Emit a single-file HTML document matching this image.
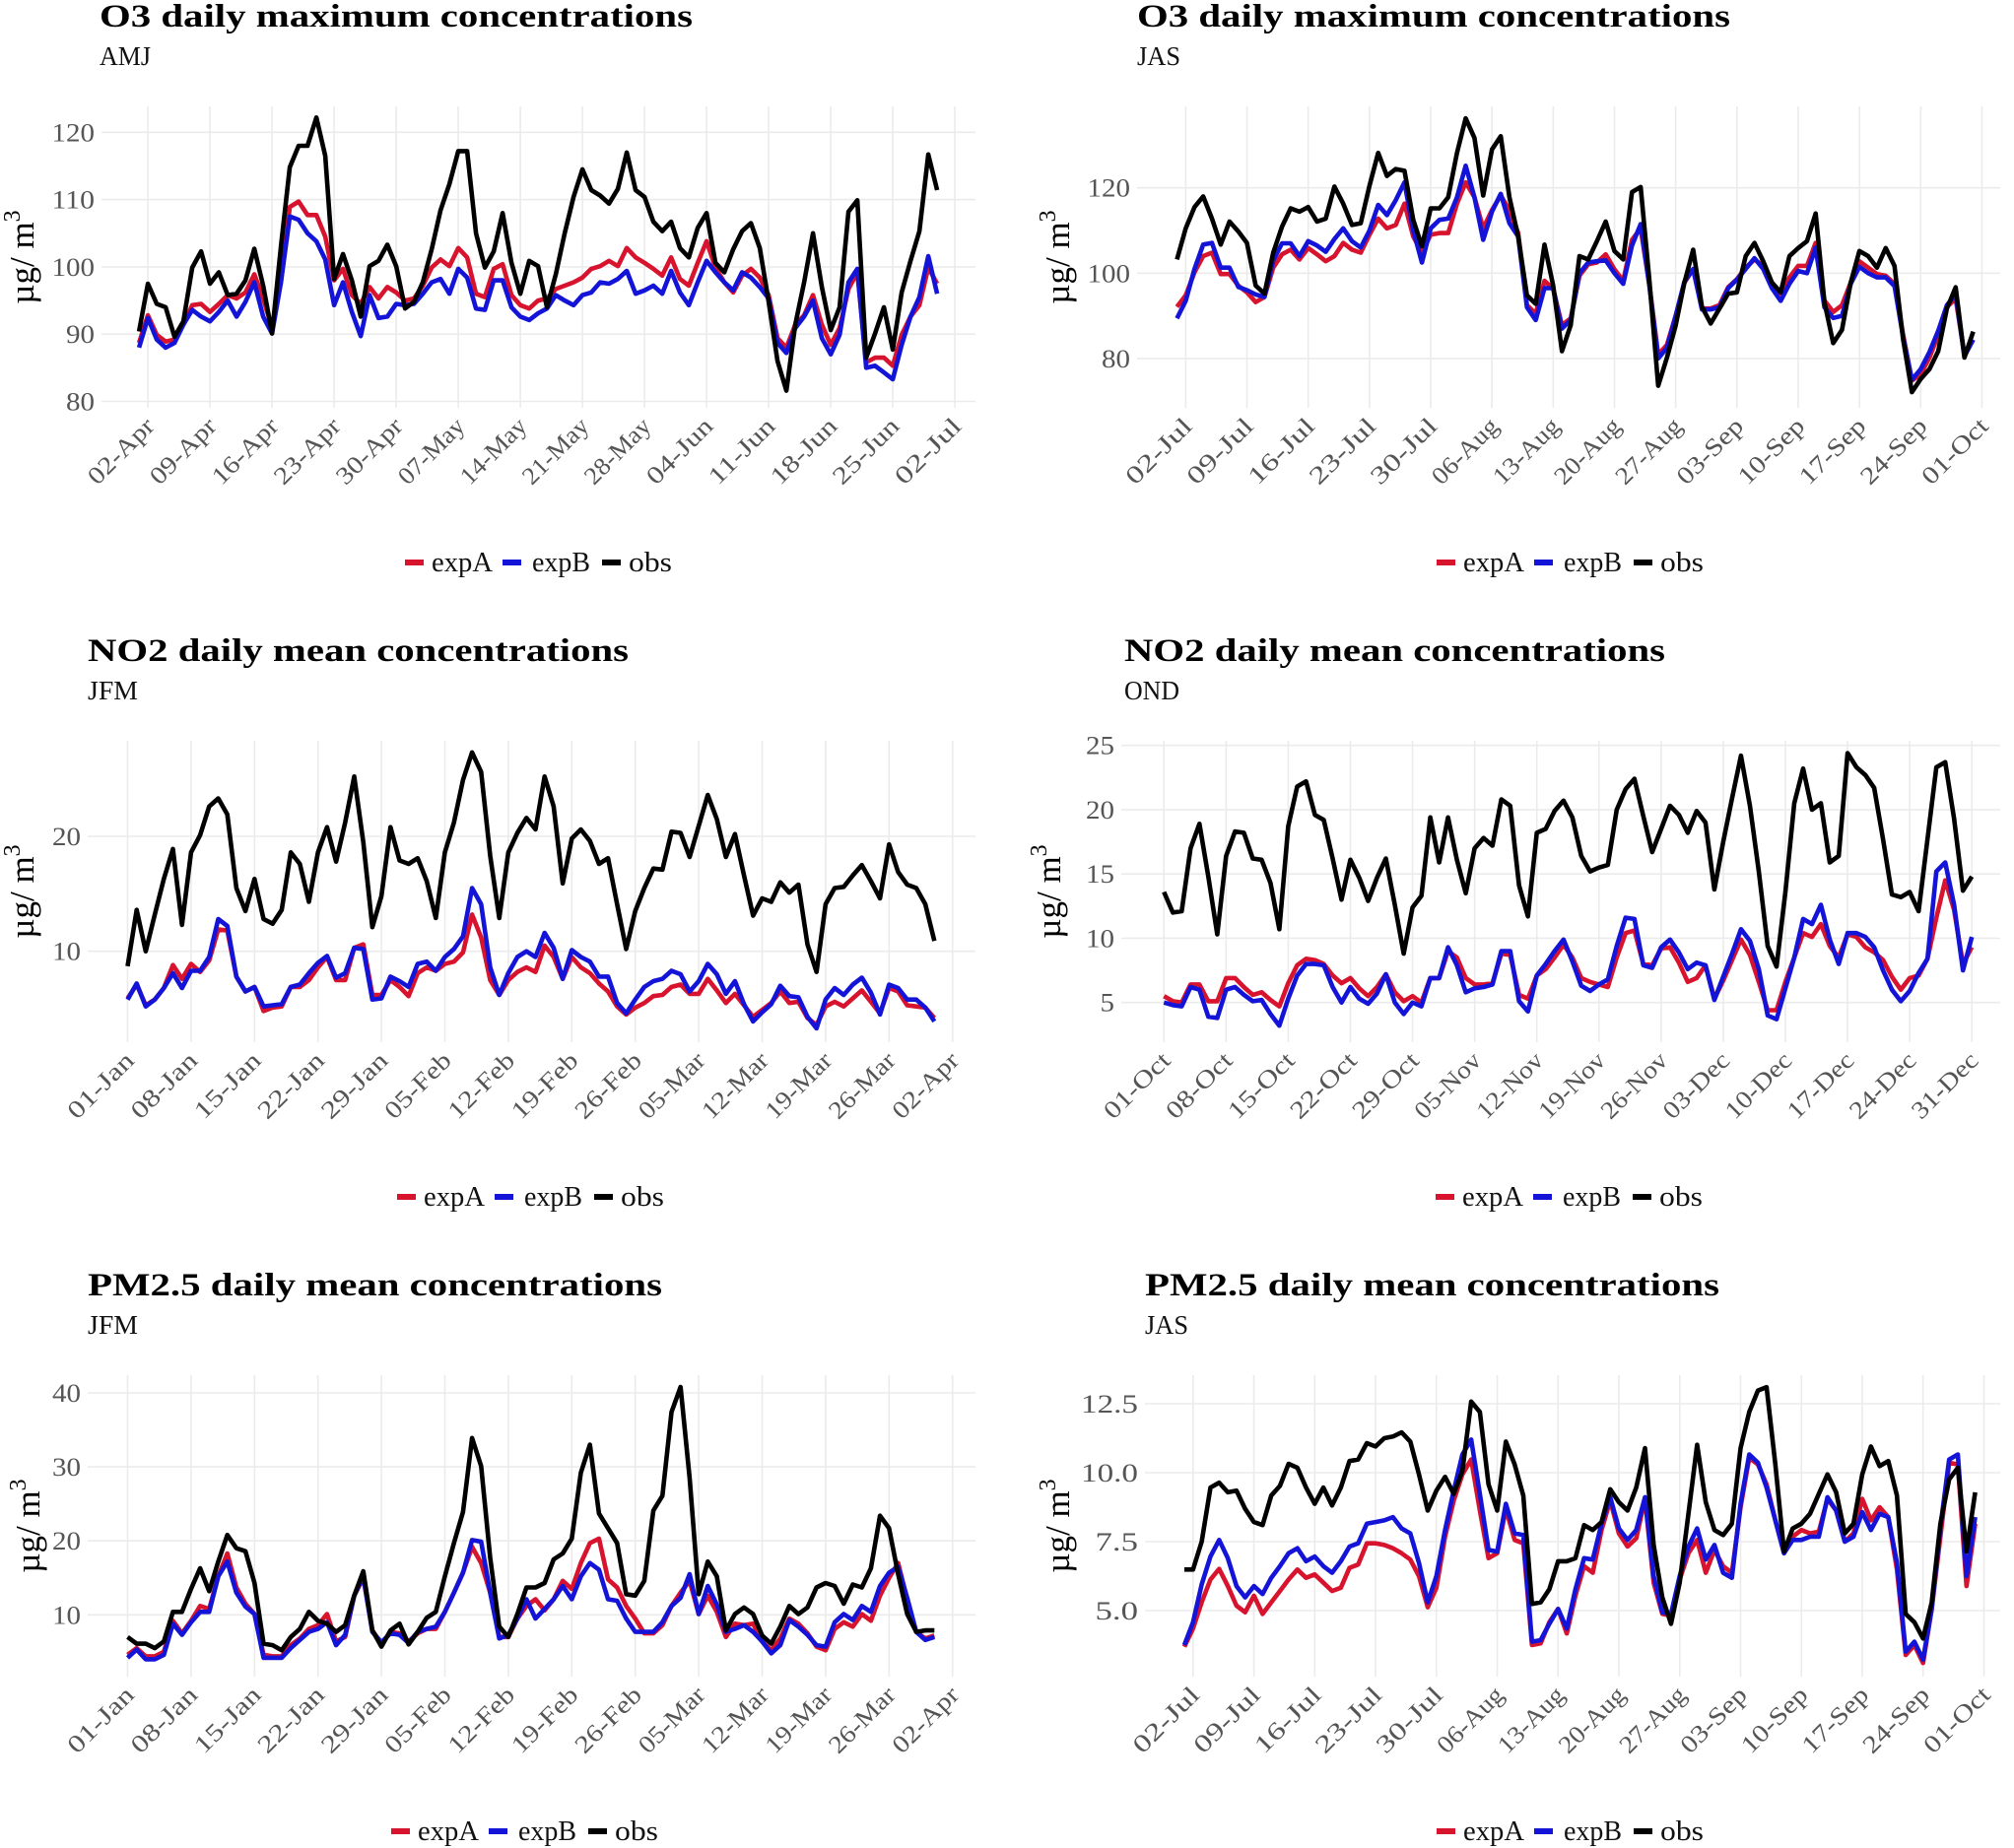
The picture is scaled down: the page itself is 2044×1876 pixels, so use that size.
<!DOCTYPE html>
<html><head><meta charset="utf-8">
<style>
html,body{margin:0;padding:0;background:#fff;}
svg{display:block;}
text{font-family:"Liberation Serif",serif;}
</style></head>
<body>
<svg id="chart" xmlns="http://www.w3.org/2000/svg" width="2044" height="1876" viewBox="0 0 2044 1876"></svg>
<script>
// ---------- Panel 1: O3 AMJ (starts 01-Apr) ----------
const p1Obs=[90.4,97.5,94.5,94,89.6,91.9,99.9,102.3,97.5,99.2,95.8,96,98,102.7,97.2,90.1,103,114.8,118,118,122.2,116.5,98.2,101.9,98,92.6,100.1,100.9,103.3,100.1,93.8,94.8,97.7,102.6,108.4,112.3,117.2,117.2,105,99.9,102.3,108,100.6,96,100.9,100.1,94,98.9,105,110.4,114.5,111.4,110.6,109.4,111.6,117,111.4,110.4,106.7,105.3,106.7,102.8,101.4,105.8,108,100.6,99.2,102.6,105.3,106.5,102.8,94.8,86,81.6,91.4,97.7,105,97,90.6,94,108.2,109.9,86.5,90.1,94,87.7,96.2,100.9,105.3,116.7,111.4];
const p1ExpA=[88.7,92.8,89.9,88.9,89.2,91.4,94.3,94.5,93.3,94.5,95.8,95.3,96.2,98.9,95.3,90.9,97.7,108.9,109.7,107.7,107.7,104.5,98,99.7,95.8,94.5,97,95.3,97,96.2,95,95.3,97.2,99.9,101.1,100.1,102.8,101.4,96,95.5,99.7,100.4,95.8,94.3,93.8,95,95.3,96.7,97.2,97.7,98.4,99.7,100.1,100.9,100.1,102.8,101.4,100.6,99.7,98.7,101.4,98.2,97.2,100.6,103.8,99.9,97.7,96.2,98.7,99.7,98.4,95.8,89.4,88,91.4,92.8,95.8,91.4,88.4,90.9,96.7,99.2,85.8,86.5,86.5,85.3,89.9,92.6,94.3,99.9,97.5];
const p1ExpB=[88,92.4,89.2,88,88.7,91.4,93.6,92.6,91.9,93.3,95,92.6,94.8,97.7,92.6,90.1,97.7,107.5,107,105,103.8,101.1,94.3,97.7,93.3,89.7,95.8,92.4,92.6,94.5,94.3,94.5,96,97.7,98.2,96,99.7,98.4,93.8,93.6,98,98,94,92.6,92.1,93.1,93.8,95.8,95,94.3,95.8,96.2,97.7,97.5,98.2,99.4,96,96.5,97.2,96,99.4,96.2,94.3,97.7,100.9,99.2,97.7,96.5,99.2,98.4,97,95.3,88.7,87.2,90.9,92.6,95,89.4,87,89.9,97.7,99.7,85,85.3,84.3,83.3,88.4,92.6,95.5,101.6,96];
const p1Ticks=["02-Apr","09-Apr","16-Apr","23-Apr","30-Apr","07-May","14-May","21-May","28-May","04-Jun","11-Jun","18-Jun","25-Jun","02-Jul"];
const p1YTicks=[80,90,100,110,120];

// ---------- Panel 2: O3 JAS (starts 01-Jul) ----------
const p2Obs=[103.2,110.5,115.5,118,112.8,106.7,112.1,109.8,107.1,97.1,95.2,104.8,110.9,115.2,114.4,115.5,112.1,112.8,120.3,116.3,111.3,111.7,120.5,128.2,122.8,124.4,124,112.5,106.3,115.2,115.2,117.8,128.2,136.3,131.7,118.2,129,132.1,117.8,108.6,94.8,92.8,106.7,97.1,81.7,87.8,104,103.2,107.5,112.1,105.2,103.2,119,120.2,98.2,73.6,80.2,87.8,97.8,105.5,92.1,88.2,91.7,95.2,95.5,104,107.1,102.8,97.8,95.5,104,105.9,107.5,114,93.2,83.6,86.7,97.8,105.2,104,101.3,105.9,101.7,84.4,72.1,75.2,77.5,81.7,91.7,96.7,80.2,86.3];
const p2ExpA=[92.1,94.8,100.2,104,104.8,99.8,99.8,97.1,95.5,93.2,94.4,101.3,104.4,105.5,103.2,105.9,104.4,102.8,104,107.1,105.5,104.8,109,112.8,110.5,111.3,116.3,108.6,104.8,109,109.4,109.4,116.3,121.3,117.8,110.5,114.8,118.2,114.8,109.4,92.5,90.5,98.2,96.3,87.8,89.4,99.4,102.1,102.5,104.4,100.9,98.2,107.8,110.5,97.1,80.9,83.2,90.1,97.8,100.9,91.7,91.7,92.5,96.7,98.6,101.3,103.2,101.7,97.8,95.2,99,101.7,101.7,107.1,93.6,90.9,92.5,97.8,102.8,101.3,99.8,99.4,97.5,85.5,74.8,76.3,80.2,85.5,92.1,94,80.9,84.4];
const p2ExpB=[89.4,93.5,101,106.7,107.1,101.3,101.3,96.8,96,95,94.4,103,107,107,104,107.5,106.5,105,108,110.5,107.5,106,110,116,113.6,117.1,121.3,110,102.5,110.5,112.5,112.8,117.8,125.2,117.8,107.8,114.4,118.6,111.7,108.6,92,89,96.5,96.5,87,89,100,102.5,102.8,103,100,97.5,106.5,111.5,97,80,82.5,90,98,101,91.5,91.5,92,96.5,98.5,101,103.5,101,96.5,93.5,97.5,100.5,100,106,92,89.5,90,97.5,101.5,100,99,99,97,85,75,77.5,81.5,86.5,92.5,95,80.5,84.4];
const p2Ticks=["02-Jul","09-Jul","16-Jul","23-Jul","30-Jul","06-Aug","13-Aug","20-Aug","27-Aug","03-Sep","10-Sep","17-Sep","24-Sep","01-Oct"];
const p2YTicks=[80,100,120];

// ---------- Panel 3: NO2 JFM (starts 01-Jan) ----------
const p3Obs=[8.7,13.6,10,13.2,16.3,18.9,12.3,18.6,20.1,22.6,23.3,21.9,15.5,13.5,16.3,12.8,12.4,13.6,18.6,17.6,14.3,18.6,20.8,17.8,21.2,25.2,19.5,12.1,14.8,20.8,17.9,17.6,18.1,16.1,12.9,18.6,21.2,24.9,27.3,25.6,18.3,12.9,18.6,20.3,21.6,20.6,25.2,22.6,15.9,19.8,20.6,19.6,17.6,18.1,14.1,10.2,13.5,15.5,17.2,17.1,20.4,20.3,18.2,20.9,23.6,21.5,18.2,20.2,16.6,13.1,14.6,14.3,16,15.1,15.8,10.6,8.2,14.1,15.5,15.6,16.6,17.5,16.1,14.6,19.3,16.9,15.8,15.5,14.1,10.9];
const p3ExpA=[5.9,7.1,5.3,5.8,6.8,8.8,7.6,8.9,8.2,9.2,11.9,11.8,7.8,6.5,6.9,4.8,5.1,5.2,6.9,6.9,7.5,8.6,9.5,7.5,7.5,10.3,10.6,6.2,6.2,7.5,6.9,6.1,8.1,8.6,8.3,8.9,9.1,9.9,13.2,11.2,7.5,6.2,7.5,8.2,8.6,8.2,10.5,9.5,7.6,9.5,8.6,8.1,7.2,6.5,5.2,4.5,5.1,5.5,6.1,6.2,6.9,7.1,6.3,6.3,7.6,6.6,5.5,6.3,5.3,4.3,4.9,5.5,6.5,5.5,5.6,4.2,3.6,5.2,5.6,5.2,5.9,6.6,5.6,4.6,6.8,6.5,5.3,5.2,5.1,4.2];
const p3ExpB=[5.8,7.2,5.2,5.8,6.8,8.1,6.8,8.3,8.3,9.5,12.8,12.2,7.8,6.5,6.9,5.2,5.3,5.4,6.9,7.1,8.1,9,9.6,7.7,8.1,10.3,10.2,5.8,5.9,7.8,7.4,6.9,8.9,9.1,8.3,9.5,10.2,11.3,15.5,14.1,8.6,6.2,8.1,9.5,10,9.5,11.6,10.3,7.6,10.1,9.5,9.1,7.8,7.8,5.5,4.6,5.8,6.9,7.4,7.6,8.3,8,6.5,7.4,8.9,8,6.3,7.4,5.4,3.9,4.7,5.4,7,6.1,6,4.3,3.3,5.8,6.8,6.2,7.1,7.7,6.4,4.5,7.1,6.8,5.8,5.8,5.1,3.9];
const p3Ticks=["01-Jan","08-Jan","15-Jan","22-Jan","29-Jan","05-Feb","12-Feb","19-Feb","26-Feb","05-Mar","12-Mar","19-Mar","26-Mar","02-Apr"];
const p3YTicks=[10,20];

// ---------- Panel 4: NO2 OND (starts 01-Oct) ----------
const p4Obs=[13.6,12,12.1,17,18.9,14.8,10.3,16.4,18.3,18.2,16.2,16.1,14.3,10.7,18.7,21.8,22.2,19.6,19.2,16.2,13,16.1,14.7,12.9,14.7,16.2,12.6,8.8,12.4,13.3,19.4,15.9,19.4,16.1,13.5,17,17.8,17.2,20.8,20.3,14.1,11.7,18.2,18.5,19.9,20.7,19.4,16.4,15.2,15.5,15.7,20,21.6,22.4,19.5,16.7,18.5,20.3,19.6,18.2,19.9,19,13.8,17.5,20.9,24.2,20.3,15.2,9.4,7.8,13.6,20.5,23.2,20,20.5,15.9,16.4,24.4,23.3,22.7,21.7,17.7,13.4,13.2,13.6,12.1,17.7,23.3,23.7,19.3,13.7,14.8];
const p4ExpA=[5.5,5.1,5,6.4,6.4,5.1,5.1,6.9,6.9,6.2,5.6,5.8,5.2,4.7,6.5,7.9,8.4,8.3,8,7.1,6.5,6.9,6.1,5.5,6.2,7.2,5.8,5.1,5.5,5,6.9,6.9,9,8.5,6.9,6.4,6.4,6.5,8.8,8.7,5.6,5.3,7.1,7.6,8.5,9.5,8.5,6.9,6.6,6.4,6.2,8.5,10.4,10.6,8,7.9,9.2,9.3,8.1,6.6,6.9,7.9,5.3,6.7,8.3,9.9,8.7,6.6,4.4,4.4,6.6,8.5,10.4,10.1,11.1,9.4,8.5,10.3,10.1,9.3,8.9,8.3,7,6,6.9,7.1,8.4,11.6,14.5,12.2,8,9.3];
const p4ExpB=[5,4.8,4.7,6.2,6,3.9,3.8,6,6.2,5.6,5.1,5.2,4.1,3.2,5.3,7.1,8,8,7.9,6.2,5,6.2,5.3,4.9,5.7,7.2,5,4.1,5,4.7,6.9,6.9,9.3,7.9,5.8,6.1,6.2,6.4,9,9,5.1,4.3,7.1,8,9,9.9,8.2,6.3,5.9,6.4,6.8,9.4,11.6,11.5,7.9,7.7,9.3,9.9,8.9,7.6,8.1,7.9,5.2,7,8.8,10.7,9.8,7.6,4,3.7,6.1,8.5,11.5,11.1,12.6,9.9,8,10.4,10.4,10.1,9.3,7.5,6,5.1,5.9,7.3,8.4,15.2,15.9,12.6,7.5,10.1];
const p4Ticks=["01-Oct","08-Oct","15-Oct","22-Oct","29-Oct","05-Nov","12-Nov","19-Nov","26-Nov","03-Dec","10-Dec","17-Dec","24-Dec","31-Dec"];
const p4YTicks=[5,10,15,20,25];

// ---------- Panel 5: PM2.5 JFM (starts 01-Jan) ----------
const p5Obs=[7,6.1,6.1,5.5,6.4,10.4,10.4,13.5,16.3,13.2,17.2,20.8,19,18.6,14.3,6.1,5.9,5.2,7,8.1,10.4,9.2,8.8,7.7,8.6,12.6,15.9,7.9,5.7,7.9,8.8,6,7.7,9.6,10.4,15.2,19.7,23.9,33.9,30.1,17.7,8.4,7,10.1,13.7,13.7,14.3,17.5,18.3,20.3,29.2,33,23.7,21.7,19.7,12.8,12.6,14.6,24.1,26.1,37.4,40.8,28.5,12.8,17.2,15.2,7.9,10.1,11,10.1,7.2,6.1,8.4,11.2,10.1,11,13.7,14.3,13.9,11.5,14.1,13.7,16.3,23.4,21.7,15.5,10.1,7.7,7.9,7.9];
const p5ExpA=[4.6,5.5,4.4,4.4,5,9.2,7.5,9.2,11.2,10.8,15.2,18.3,13.7,11.5,10.1,4.6,4.4,4.4,5.9,6.8,8.1,8.6,10.1,6.4,7,12.6,15,7.9,6.1,7.7,7.5,6.4,7.5,8.1,8.1,10.4,13,15.7,19.2,17,13,7,7,9.5,11.2,12.1,10.6,12.1,14.6,13.5,17,19.7,20.3,14.8,13.7,11.2,9.5,7.5,7.5,8.6,11.2,13,14.6,10.1,12.6,10.4,7,8.8,8.6,8.8,6.4,5.2,6.8,9.5,8.8,7.5,5.7,5.2,8.1,9,8.4,10.1,9.2,12.6,15,17,12.1,7.7,6.8,7.2];
const p5ExpB=[4.2,5.3,4,4,4.6,8.8,7.3,9,10.4,10.4,15.2,17.2,13,11.1,10.1,4.2,4.2,4.2,5.5,6.6,7.7,8.1,9,5.9,7.3,12.6,15.2,7.7,6.3,7.5,7.3,6.2,7.7,8.1,8.4,10.4,13,15.7,20.1,19.9,13,6.8,7.3,9.5,12.1,9.5,10.8,12.1,13.9,12.1,15.2,17,16.1,12.1,11.9,9.5,7.7,7.7,7.7,9,11.2,12.3,15.5,10.1,13.9,11.4,7.7,8.1,8.6,7.7,6.4,4.8,5.9,9.3,8.4,7.3,5.9,5.7,9,10.1,9.3,11.2,10.4,13.9,15.7,16.5,12.3,7.7,6.6,7];
const p5Ticks=["01-Jan","08-Jan","15-Jan","22-Jan","29-Jan","05-Feb","12-Feb","19-Feb","26-Feb","05-Mar","12-Mar","19-Mar","26-Mar","02-Apr"];
const p5YTicks=[10,20,30,40];

// ---------- Panel 6: PM2.5 JAS (starts 01-Jul) ----------
const p6Obs=[6.49,6.49,7.5,9.46,9.64,9.29,9.35,8.69,8.21,8.1,9.17,9.52,10.32,10.18,9.46,8.87,9.46,8.81,9.46,10.42,10.48,11.07,10.95,11.25,11.31,11.46,11.13,9.94,8.63,9.35,9.85,9.23,10.06,12.58,12.2,9.58,8.63,11.13,10.3,9.17,5.24,5.3,5.77,6.79,6.79,6.9,8.1,7.92,8.21,9.4,8.93,8.63,9.46,10.89,7.38,5.48,4.52,6.01,8.51,11.01,8.93,7.92,7.74,8.15,10.89,12.2,12.98,13.1,10.3,7.14,7.98,8.15,8.51,9.23,9.94,9.29,7.8,8.15,9.94,10.95,10.24,10.42,9.17,4.88,4.58,3.99,5.3,8.15,9.76,10.18,7.14,9.29];
const p6ExpA=[3.69,4.35,5.3,6.13,6.51,5.89,5.18,4.94,5.54,4.88,5.3,5.71,6.13,6.49,6.19,6.31,6.01,5.71,5.83,6.55,6.67,7.44,7.44,7.38,7.26,7.08,6.85,6.25,5.12,5.83,7.68,8.99,9.94,10.48,8.63,6.9,7.08,8.69,7.56,7.44,3.75,3.81,4.58,5.06,4.17,5.54,6.61,6.37,7.92,8.99,7.8,7.32,7.62,9.05,6.01,4.88,4.82,6.13,7.08,7.56,6.37,7.2,6.61,6.37,8.75,10.54,10.3,9.58,8.27,7.08,7.68,7.92,7.8,7.86,9.05,8.63,7.5,7.8,9.05,8.27,8.75,8.39,6.49,3.39,3.75,3.1,5.06,7.68,10.36,10.3,5.89,8.15];
const p6ExpB=[3.75,4.58,5.95,6.96,7.56,6.9,5.89,5.48,5.89,5.6,6.19,6.61,7.08,7.26,6.79,6.96,6.61,6.37,6.79,7.32,7.44,8.15,8.21,8.27,8.39,7.98,7.8,6.73,5.3,6.25,7.92,9.35,10.66,11.2,9.23,7.2,7.14,8.87,7.8,7.74,3.87,3.93,4.52,5.06,4.35,5.77,6.9,6.85,8.15,9.11,7.98,7.56,7.92,9.11,6.25,4.94,4.88,6.25,7.32,7.98,6.85,7.38,6.37,6.19,8.87,10.66,10.36,9.46,8.27,7.08,7.56,7.56,7.68,7.68,9.11,8.63,7.5,7.68,8.57,7.92,8.51,8.39,6.73,3.51,3.87,3.22,5.06,8.03,10.48,10.66,6.25,8.39];
const p6Ticks=["02-Jul","09-Jul","16-Jul","23-Jul","30-Jul","06-Aug","13-Aug","20-Aug","27-Aug","03-Sep","10-Sep","17-Sep","24-Sep","01-Oct"];
const p6YTicks=[5.0,7.5,10.0,12.5];

const NS="http://www.w3.org/2000/svg";
const svg=document.getElementById('chart');
function mk(tag,attrs,parent){const e=document.createElementNS(NS,tag);for(const k in attrs)e.setAttribute(k,attrs[k]);(parent||svg).appendChild(e);return e;}

const panels=[
 {key:'o3-amj',title:'O3 daily maximum concentrations',tl:602,sub:'AMJ',sl:52,obs:p1Obs,a:p1ExpA,b:p1ExpB,ticks:p1Ticks,yt:p1YTicks,dec:0,
  titleX:101,row:0,gl:103,gr:990,x0:141.1,dx:9.0,tick0:1,vRef:120,yRef:134.3,ky:6.83,ylabX:22,legC:546},
 {key:'o3-jas',title:'O3 daily maximum concentrations',tl:602,sub:'JAS',sl:44,obs:p2Obs,a:p2ExpA,b:p2ExpB,ticks:p2Ticks,yt:p2YTicks,dec:0,
  titleX:1154,row:0,gl:1154,gr:2030,x0:1194.5,dx:8.88,tick0:1,vRef:120,yRef:190.7,ky:4.33,ylabX:1073,legC:1593},
 {key:'no2-jfm',title:'NO2 daily mean concentrations',tl:549,sub:'JFM',sl:51,obs:p3Obs,a:p3ExpA,b:p3ExpB,ticks:p3Ticks,yt:p3YTicks,dec:0,
  titleX:89,row:1,gl:89,gr:990,x0:129.5,dx:9.2,tick0:0,vRef:20,yRef:849,ky:11.67,ylabX:22,legC:538},
 {key:'no2-ond',title:'NO2 daily mean concentrations',tl:549,sub:'OND',sl:56,obs:p4Obs,a:p4ExpA,b:p4ExpB,ticks:p4Ticks,yt:p4YTicks,dec:0,
  titleX:1141,row:1,gl:1138,gr:2030,x0:1181.3,dx:9.01,tick0:0,vRef:25,yRef:756.7,ky:13.05,ylabX:1064,legC:1592},
 {key:'pm25-jfm',title:'PM2.5 daily mean concentrations',tl:583,sub:'JFM',sl:51,obs:p5Obs,a:p5ExpA,b:p5ExpB,ticks:p5Ticks,yt:p5YTicks,dec:0,
  titleX:89,row:2,gl:89,gr:990,x0:129.5,dx:9.2,tick0:0,vRef:40,yRef:1414,ky:7.51,ylabX:28,legC:532},
 {key:'pm25-jas',title:'PM2.5 daily mean concentrations',tl:583,sub:'JAS',sl:44,obs:p6Obs,a:p6ExpA,b:p6ExpB,ticks:p6Ticks,yt:p6YTicks,dec:1,
  titleX:1162,row:2,gl:1162,gr:2030,x0:1202,dx:8.82,tick0:1,vRef:12.5,yRef:1425,ky:28,ylabX:1073,legC:1593}
];

panels.forEach(p=>{
  const off=p.row*644;
  const top=108+off, bot=414+off;
  const g=mk('g',{});
  
  
  const xs=d=>p.x0+d*p.dx;
  const ys=v=>p.yRef-(v-p.vRef)*p.ky;
  const t=mk('text',{x:p.titleX,y:27+off,'font-size':33,'font-weight':'bold',fill:'#000',textLength:p.tl,lengthAdjust:'spacingAndGlyphs'},g);
  t.textContent=p.title;
  
  
  const st=mk('text',{x:p.titleX,y:66+off,'font-size':27,fill:'#111',textLength:p.sl,lengthAdjust:'spacingAndGlyphs'},g);
  st.textContent=p.sub;
  
  
  const grid=mk('g',{stroke:'#ebebeb','stroke-width':1.6},g);
  
  
  p.ticks.forEach((lab,i)=>{
    const x=xs(p.tick0+7*i);
    const l=mk('line',{x1:x,x2:x,y1:top,y2:bot},grid);
    
    
    const ax=x+8, ay=bot+20;
    const tx=mk('text',{x:ax,y:ay,'font-size':25,fill:'#555','text-anchor':'end',textLength:lab.length*14,lengthAdjust:'spacingAndGlyphs',transform:`rotate(-45 ${ax} ${ay})`},g);
    tx.textContent=lab;
    
    
  });
  p.yt.forEach(v=>{
    const y=ys(v);
    const l=mk('line',{x1:p.gl,x2:p.gr,y1:y,y2:y},grid);
    
    
    const lab=p.dec?v.toFixed(1):String(v);
    const tx=mk('text',{x:p.gl-7,y:y+9,'font-size':26,fill:'#555','text-anchor':'end',textLength:lab.length*14.5,lengthAdjust:'spacingAndGlyphs'},g);
    tx.textContent=lab;
    
    
  });
  const cy=(top+bot)/2;
  const yt=mk('text',{x:p.ylabX+12,y:cy,'font-size':35,fill:'#000','text-anchor':'middle',transform:`rotate(-90 ${p.ylabX+12} ${cy})`},g);
  yt.innerHTML='µg/ m<tspan dy="-14" font-size="24">3</tspan>';
  
  
  const series=[['expA',p.a,'#d7132e'],['expB',p.b,'#1414d8'],['obs',p.obs,'#000']];
  series.forEach(([nm,arr,col])=>{
    const pts=arr.map((v,i)=>xs(i).toFixed(1)+','+ys(v).toFixed(1)).join(' ');
    const pl=mk('polyline',{points:pts,fill:'none',stroke:col,'stroke-width':4.6,'stroke-linejoin':'round'},g);
    
    
  });
  const lg=mk('g',{},g);
  
  
  const ly=(p.row===0?571:p.row===1?1215:1859);
  const items=[['expA','#d7132e',-135,-108,62],['expB','#1414d8',-36,-6,59],['obs','#000',65,92,44]];
  items.forEach(([nm,col,dxo,txo,tw])=>{
    const r=mk('rect',{x:p.legC+dxo,y:ly-3,width:19,height:6,fill:col},lg);
    
    
    const tx=mk('text',{x:p.legC+txo,y:ly+9,'font-size':28,fill:'#111',textLength:tw,lengthAdjust:'spacingAndGlyphs'},lg);
    tx.textContent=nm;
    
    
  });
});
</script>
</body></html>
